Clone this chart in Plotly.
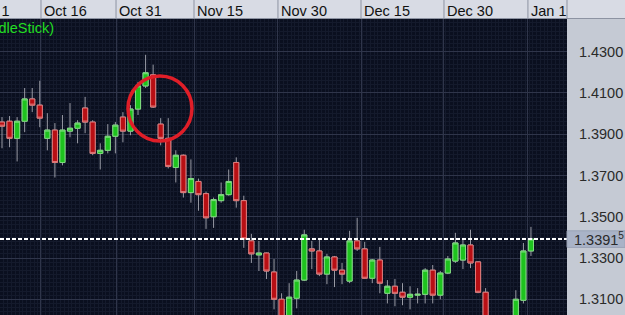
import plotly.graph_objects as go

# ---------------- data ----------------
bar_index = list(range(71))
opens = [1.3959, 1.3963, 1.3880, 1.3963, 1.4071, 1.4041, 1.3880, 1.3920, 1.3763, 1.3915,
         1.3929, 1.4027, 1.3959, 1.3807, 1.3822, 1.3890, 1.3983, 1.3915, 1.4022, 1.4134,
         1.4188, 1.3949, 1.3880, 1.3739, 1.3798, 1.3617, 1.3671, 1.3612, 1.3500, 1.3578,
         1.3607, 1.3763, 1.3578, 1.3383, 1.3315, 1.3324, 1.3232, 1.3100, 1.2985, 1.3105,
         1.3193, 1.3344, 1.3334, 1.3222, 1.3305, 1.3241, 1.3188, 1.3383, 1.3344, 1.3202,
         1.3290, 1.3129, 1.3163, 1.3134, 1.3110, 1.3120, 1.3124, 1.3241, 1.3120, 1.3227,
         1.3285, 1.3290, 1.3363, 1.3281, 1.3134, 1.2990, 1.2965, 1.2985, 1.2975, 1.3095,
         1.3334]
highs = [1.3983, 1.3988, 1.3983, 1.4124, 1.4124, 1.4159, 1.4002, 1.3954, 1.3993, 1.4051,
         1.3968, 1.4081, 1.3968, 1.3856, 1.3949, 1.3959, 1.4007, 1.4041, 1.4154, 1.4285,
         1.4237, 1.3978, 1.3978, 1.3822, 1.3802, 1.3778, 1.3685, 1.3622, 1.3593, 1.3666,
         1.3729, 1.3788, 1.3602, 1.3417, 1.3383, 1.3326, 1.3295, 1.3129, 1.3178, 1.3237,
         1.3437, 1.3383, 1.3393, 1.3320, 1.3310, 1.3276, 1.3432, 1.3495, 1.3378, 1.3295,
         1.3354, 1.3193, 1.3198, 1.3178, 1.3163, 1.3154, 1.3251, 1.3266, 1.3237, 1.3310,
         1.3422, 1.3388, 1.3437, 1.3283, 1.3154, 1.3005, 1.3000, 1.3008, 1.3144, 1.3373,
         1.3451]
lows = [1.3832, 1.3837, 1.3768, 1.3910, 1.4007, 1.3934, 1.3822, 1.3690, 1.3749, 1.3885,
        1.3856, 1.3905, 1.3798, 1.3729, 1.3807, 1.3807, 1.3861, 1.3895, 1.3993, 1.4124,
        1.4027, 1.3846, 1.3734, 1.3666, 1.3593, 1.3568, 1.3529, 1.3441, 1.3446, 1.3568,
        1.3602, 1.3544, 1.3349, 1.3276, 1.3237, 1.3198, 1.3051, 1.2960, 1.2950, 1.3056,
        1.3188, 1.3246, 1.3212, 1.3173, 1.3159, 1.3173, 1.3178, 1.3334, 1.3198, 1.3178,
        1.3129, 1.3080, 1.3066, 1.3071, 1.3051, 1.3080, 1.3080, 1.3080, 1.3100, 1.3222,
        1.3276, 1.3246, 1.3251, 1.3129, 1.2970, 1.2940, 1.2945, 1.2950, 1.2960, 1.3080,
        1.3310]
closes = [1.3939, 1.3880, 1.3963, 1.4071, 1.4041, 1.3978, 1.3920, 1.3763, 1.3920, 1.3929,
          1.3954, 1.3959, 1.3807, 1.3822, 1.3890, 1.3944, 1.3915, 1.4022, 1.4134, 1.4198,
          1.4032, 1.3880, 1.3744, 1.3798, 1.3617, 1.3685, 1.3607, 1.3495, 1.3583, 1.3607,
          1.3671, 1.3578, 1.3393, 1.3320, 1.3324, 1.3237, 1.3100, 1.2995, 1.3110, 1.3193,
          1.3412, 1.3334, 1.3222, 1.3305, 1.3241, 1.3222, 1.3383, 1.3344, 1.3202, 1.3290,
          1.3178, 1.3163, 1.3129, 1.3110, 1.3124, 1.3124, 1.3241, 1.3120, 1.3227, 1.3295,
          1.3373, 1.3363, 1.3276, 1.3134, 1.2990, 1.2960, 1.2985, 1.2975, 1.3100, 1.3334,
          1.3392]

date_labels = ["Oct 1", "Oct 16", "Oct 31", "Nov 15", "Nov 30", "Dec 15", "Dec 30", "Jan 1"]
date_label_pos = [-3.97, 5.16, 15.09, 25.41, 36.52, 47.51, 58.49, 69.6]
last_price = 1.33915
last_price_text = "1.3391<sup>5</sup>"
title_text = "(CandleStick)"

# ---------------- layout constants ----------------
W, H = 625, 315
ML, MR, MT, MB = 0, 58, 19, 0
PW, PH = W - ML - MR, H - MT - MB
XR = [-0.265, 74.77]
YR = [1.30237, 1.44585]
FONT = "Liberation Sans, Arial, sans-serif"

def xpaper(v):
    return (v - XR[0]) / (XR[1] - XR[0])

body_hi = [max(o, c) for o, c in zip(opens, closes)]
body_lo = [min(o, c) for o, c in zip(opens, closes)]

fig = go.Figure()
# wicks
fig.add_trace(go.Candlestick(
    x=bar_index, open=opens, high=highs, low=lows, close=closes,
    increasing=dict(line=dict(color="#9a9ca6", width=1), fillcolor="rgba(0,0,0,0)"),
    decreasing=dict(line=dict(color="#9a9ca6", width=1), fillcolor="rgba(0,0,0,0)"),
    whiskerwidth=0, showlegend=False, hoverinfo="skip"))
# bodies
fig.add_trace(go.Candlestick(
    x=bar_index, open=opens, high=body_hi, low=body_lo, close=closes,
    increasing=dict(line=dict(color="#7fdc7f", width=1), fillcolor="#1ec31e"),
    decreasing=dict(line=dict(color="#e07a7a", width=1), fillcolor="#b80f14"),
    whiskerwidth=0, showlegend=False, hoverinfo="skip"))

shapes = []
annotations = []
# header bar
shapes.append(dict(type="rect", xref="paper", yref="paper", x0=0, x1=W / PW,
                   y0=1, y1=1 + MT / PH, fillcolor="#d8dbe4", line=dict(width=0), layer="above"))
shapes.append(dict(type="line", xref="paper", yref="paper", x0=0, x1=W / PW,
                   y0=1 + 0.5 / PH, y1=1 + 0.5 / PH, line=dict(color="#8d93a2", width=1), layer="above"))
# header separators and labels
for lab, pos in zip(date_labels, date_label_pos):
    px = xpaper(pos)
    shapes.append(dict(type="line", xref="paper", yref="paper", x0=px, x1=px,
                       y0=1, y1=1 + MT / PH, line=dict(color="#8d93a2", width=1), layer="above"))
    annotations.append(dict(xref="paper", yref="paper", x=px, y=1 + (MT - 11.5) / PH,
                            xanchor="left", yanchor="middle", xshift=1, showarrow=False,
                            text=lab, font=dict(family=FONT, size=14.5, color="#111111")))
shapes.append(dict(type="line", xref="paper", yref="paper", x0=1, x1=1,
                   y0=1, y1=1 + MT / PH, line=dict(color="#8d93a2", width=1), layer="above"))

# last price dashed line
shapes.append(dict(type="line", xref="paper", yref="y", x0=0, x1=1, y0=last_price, y1=last_price,
                   line=dict(color="white", width=2, dash="4px,2px"), layer="above"))
# last price box on axis
dy = 8.3 * (YR[1] - YR[0]) / PH
shapes.append(dict(type="rect", xref="paper", yref="y", x0=1, x1=W / PW,
                   y0=last_price - dy, y1=last_price + dy, fillcolor="#a9b3c7",
                   line=dict(color="#9aa3b6", width=1), layer="above"))
annotations.append(dict(xref="paper", yref="y", x=1, y=last_price, xanchor="left", yanchor="middle",
                        xshift=5, showarrow=False, text=last_price_text,
                        font=dict(family=FONT, size=14.5, color="#2a2a2a")))

# red circle highlight
shapes.append(dict(type="circle", xref="x", yref="y", x0=16.67, x1=25.14, y0=1.3867, y1=1.4182,
                   line=dict(color="#e01e28", width=3.5), layer="above"))

# title text (partly cut off at left)
annotations.append(dict(xref="paper", yref="paper", x=56 / PW, y=1 - 9 / PH, xanchor="right",
                        yanchor="middle", showarrow=False, text=title_text,
                        font=dict(family=FONT, size=14.5, color="#22dd22")))

fig.update_layout(
    width=W, height=H, autosize=False,
    margin=dict(l=ML, r=MR, t=MT, b=MB, pad=0),
    paper_bgcolor="#c5cad4", plot_bgcolor="#0a0f1f",
    boxgap=0.1, boxgroupgap=0.25, boxmode="overlay",
    shapes=shapes, annotations=annotations, showlegend=False,
    xaxis=dict(range=XR, rangeslider=dict(visible=False), tickmode="array",
               tickvals=date_label_pos, showticklabels=False, ticks="",
               showgrid=True, gridcolor="#2f354a", gridwidth=1, zeroline=False, showline=False,
               minor=dict(tickmode="linear", tick0=0.25, dtick=0.5, showgrid=True,
                          gridcolor="#141a2c", gridwidth=1, ticks="")),
    yaxis=dict(range=YR, side="right", tickmode="linear", tick0=1.31, dtick=0.02,
               tickformat=".4f", ticks="outside", ticklen=8, tickcolor="rgba(0,0,0,0)",
               tickfont=dict(family=FONT, size=14.5, color="#2a2a2a"),
               showgrid=True, gridcolor="#2f354a", gridwidth=1, zeroline=False, showline=False,
               minor=dict(tickmode="linear", tick0=1.31, dtick=0.002, showgrid=True,
                          gridcolor="#141a2c", gridwidth=1, ticks="")),
)

fig.write_html("out.html")
